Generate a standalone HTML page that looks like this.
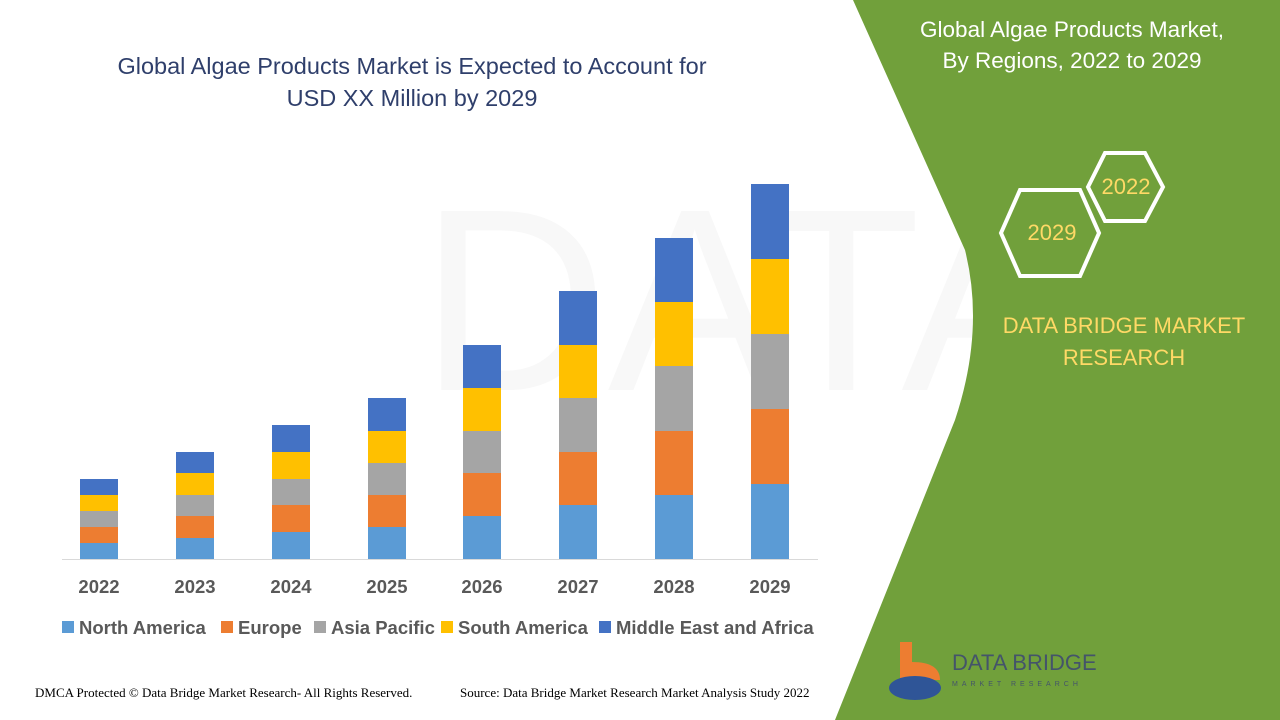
<!DOCTYPE html>
<html><head><meta charset="utf-8"><style>
body{margin:0;width:1280px;height:720px;overflow:hidden;background:#fff;font-family:"Liberation Sans",sans-serif;}
</style></head><body>
<svg width="1280" height="720" xmlns="http://www.w3.org/2000/svg" style="position:absolute;left:0;top:0">
<rect width="1280" height="720" fill="#fff"/>
<text x="420" y="390" font-size="260" fill="#f8f8f8" font-family="Liberation Sans">DATA BRIDGE</text>
<path d="M853 0 L1280 0 L1280 720 L835 720 L955 420 Q985 330 965 250 Z" fill="#71A03B"/>
<text x="1072" y="37" text-anchor="middle" font-size="22.5" fill="#fff">Global Algae Products Market,</text>
<text x="1072" y="68" text-anchor="middle" font-size="22.5" fill="#fff">By Regions, 2022 to 2029</text>
<polygon points="1088,187 1105,153 1145,153 1163,187 1145,221 1105,221" fill="none" stroke="#fff" stroke-width="4"/>
<polygon points="1001,233 1020,190 1080,190 1099,233 1080,276 1020,276" fill="none" stroke="#fff" stroke-width="4"/>
<text x="1126" y="194" text-anchor="middle" font-size="22" fill="#FFD966">2022</text>
<text x="1052" y="240" text-anchor="middle" font-size="22" fill="#FFD966">2029</text>
<text x="1124" y="333" text-anchor="middle" font-size="22" fill="#FFD966">DATA BRIDGE MARKET</text>
<text x="1124" y="365" text-anchor="middle" font-size="22" fill="#FFD966">RESEARCH</text>
<path d="M900 642 L912 642 L912 662 Q940 662 940 680 L900 680 Z" fill="#ED7D31"/>
<ellipse cx="915" cy="688" rx="26" ry="12" fill="#2F5597"/>
<text x="952" y="670" font-size="22" fill="#44546A">DATA BRIDGE</text>
<text x="952" y="686" font-size="7" fill="#44546A" letter-spacing="4">MARKET RESEARCH</text>
<text x="412" y="74" text-anchor="middle" font-size="23.5" fill="#2F3F6B">Global Algae Products Market is Expected to Account for</text>
<text x="412" y="106" text-anchor="middle" font-size="23.5" fill="#2F3F6B">USD XX Million by 2029</text>
<line x1="62" y1="559.5" x2="818" y2="559.5" stroke="#d9d9d9" stroke-width="1"/>
<g font-size="18.5" font-weight="bold" fill="#595959" text-anchor="middle">
<text x="99" y="593">2022</text><text x="195" y="593">2023</text><text x="291" y="593">2024</text><text x="387" y="593">2025</text>
<text x="482" y="593">2026</text><text x="578" y="593">2027</text><text x="674" y="593">2028</text><text x="770" y="593">2029</text>
</g>
<g font-size="18.5" font-weight="bold" fill="#595959">
<rect x="62" y="621" width="12" height="12" fill="#5B9BD5"/><text x="79" y="634">North America</text>
<rect x="221" y="621" width="12" height="12" fill="#ED7D31"/><text x="238" y="634">Europe</text>
<rect x="314" y="621" width="12" height="12" fill="#A5A5A5"/><text x="331" y="634">Asia Pacific</text>
<rect x="441" y="621" width="12" height="12" fill="#FFC000"/><text x="458" y="634">South America</text>
<rect x="599" y="621" width="12" height="12" fill="#4472C4"/><text x="616" y="634">Middle East and Africa</text>
</g>
<text x="35" y="697" font-size="13" fill="#000" font-family="Liberation Serif">DMCA Protected © Data Bridge Market Research- All Rights Reserved.</text>
<text x="460" y="697" font-size="13" fill="#000" font-family="Liberation Serif">Source: Data Bridge Market Research Market Analysis Study 2022</text>
<g>
<rect x="80" y="543" width="38" height="16" fill="#5B9BD5"/><rect x="80" y="527" width="38" height="16" fill="#ED7D31"/><rect x="80" y="511" width="38" height="16" fill="#A5A5A5"/><rect x="80" y="495" width="38" height="16" fill="#FFC000"/><rect x="80" y="479" width="38" height="16" fill="#4472C4"/>
<rect x="176" y="538" width="38" height="21" fill="#5B9BD5"/><rect x="176" y="516" width="38" height="22" fill="#ED7D31"/><rect x="176" y="495" width="38" height="21" fill="#A5A5A5"/><rect x="176" y="473" width="38" height="22" fill="#FFC000"/><rect x="176" y="452" width="38" height="21" fill="#4472C4"/>
<rect x="272" y="532" width="38" height="27" fill="#5B9BD5"/><rect x="272" y="505" width="38" height="27" fill="#ED7D31"/><rect x="272" y="479" width="38" height="26" fill="#A5A5A5"/><rect x="272" y="452" width="38" height="27" fill="#FFC000"/><rect x="272" y="425" width="38" height="27" fill="#4472C4"/>
<rect x="368" y="527" width="38" height="32" fill="#5B9BD5"/><rect x="368" y="495" width="38" height="32" fill="#ED7D31"/><rect x="368" y="463" width="38" height="32" fill="#A5A5A5"/><rect x="368" y="431" width="38" height="32" fill="#FFC000"/><rect x="368" y="398" width="38" height="33" fill="#4472C4"/>
<rect x="463" y="516" width="38" height="43" fill="#5B9BD5"/><rect x="463" y="473" width="38" height="43" fill="#ED7D31"/><rect x="463" y="431" width="38" height="42" fill="#A5A5A5"/><rect x="463" y="388" width="38" height="43" fill="#FFC000"/><rect x="463" y="345" width="38" height="43" fill="#4472C4"/>
<rect x="559" y="505" width="38" height="54" fill="#5B9BD5"/><rect x="559" y="452" width="38" height="53" fill="#ED7D31"/><rect x="559" y="398" width="38" height="54" fill="#A5A5A5"/><rect x="559" y="345" width="38" height="53" fill="#FFC000"/><rect x="559" y="291" width="38" height="54" fill="#4472C4"/>
<rect x="655" y="495" width="38" height="64" fill="#5B9BD5"/><rect x="655" y="431" width="38" height="64" fill="#ED7D31"/><rect x="655" y="366" width="38" height="65" fill="#A5A5A5"/><rect x="655" y="302" width="38" height="64" fill="#FFC000"/><rect x="655" y="238" width="38" height="64" fill="#4472C4"/>
<rect x="751" y="484" width="38" height="75" fill="#5B9BD5"/><rect x="751" y="409" width="38" height="75" fill="#ED7D31"/><rect x="751" y="334" width="38" height="75" fill="#A5A5A5"/><rect x="751" y="259" width="38" height="75" fill="#FFC000"/><rect x="751" y="184" width="38" height="75" fill="#4472C4"/>
</g>
</svg>
</body></html>
